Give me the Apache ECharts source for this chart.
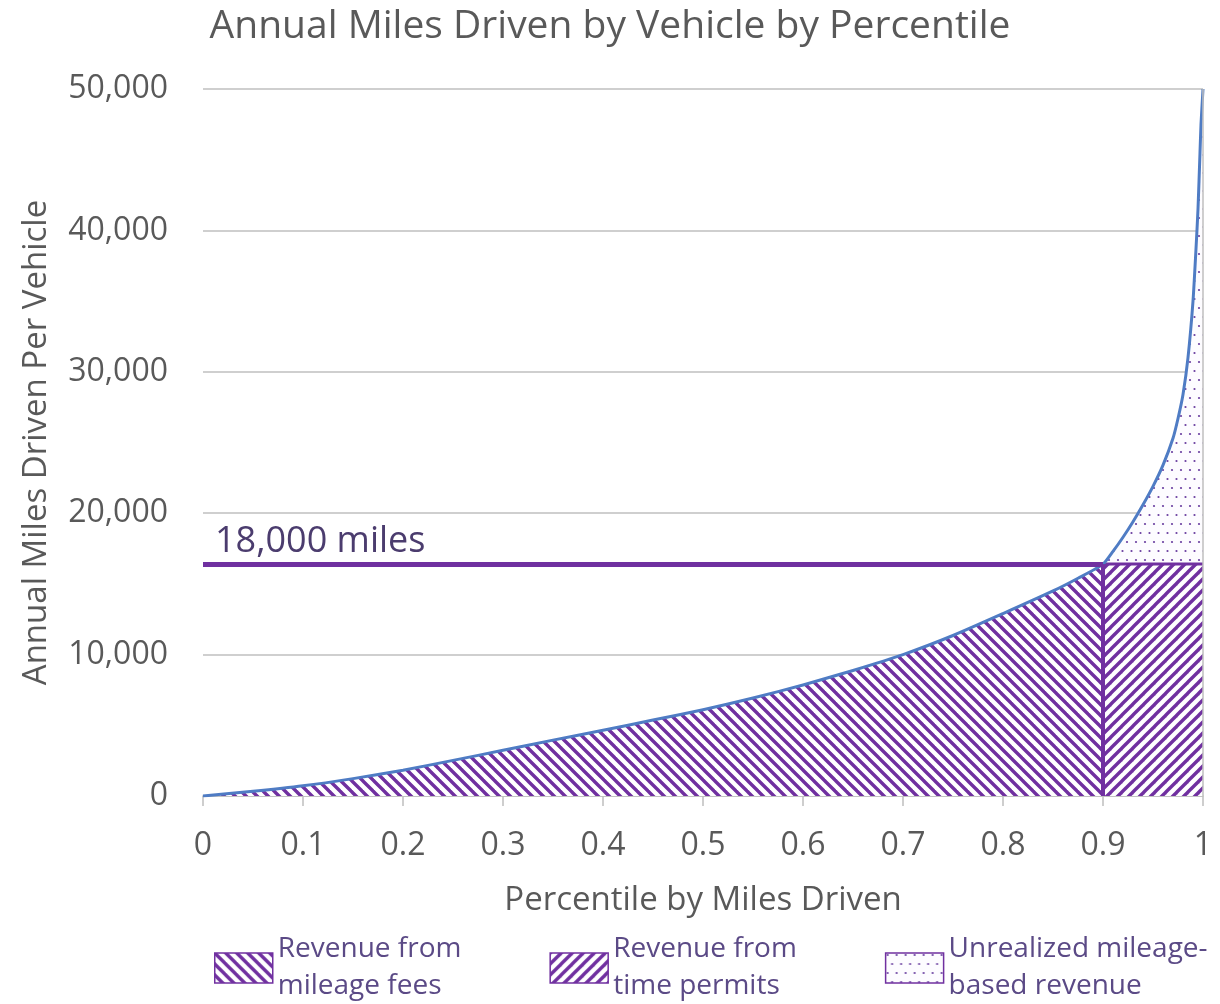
<!DOCTYPE html>
<html><head><meta charset="utf-8">
<script src="https://cdn.jsdelivr.net/npm/echarts@6/dist/echarts.min.js"></script>
<style>html,body{margin:0;padding:0;background:#fff}#c{width:1220px;height:1004px}</style>
</head><body><div id="c"></div>
<script>
// ---- data ----
const percentiles = [0, 0.05, 0.1, 0.15, 0.2, 0.25, 0.3, 0.35, 0.4, 0.45, 0.5, 0.55, 0.6, 0.65, 0.7, 0.75, 0.8, 0.85, 0.875, 0.9, 0.91, 0.92, 0.93, 0.94, 0.95, 0.96, 0.97, 0.975, 0.98, 0.985, 0.99, 0.993, 0.995, 0.997, 0.998, 1];
const miles = [0, 330, 720, 1230, 1820, 2520, 3230, 3950, 4650, 5370, 6100, 6930, 7850, 8880, 10000, 11350, 12900, 14500, 15400, 16400, 17300, 18300, 19400, 20600, 21900, 23400, 25300, 26700, 28400, 31000, 35000, 38700, 41500, 45500, 47500, 50000];
const thresholdPercentile = 0.9;
const thresholdMiles = 16400;
const thresholdLabel = '18,000 miles';
const seriesNames = ['Revenue from\nmileage fees', 'Revenue from\ntime permits', 'Unrealized mileage-\nbased revenue'];
const titleText = 'Annual Miles Driven by Vehicle by Percentile';
const xAxisTitle = 'Percentile by Miles Driven';
const yAxisTitle = 'Annual Miles Driven Per Vehicle';

// ---- patterns ----
const PURPLE = '#7030a0';
function hatch(dir) {
  const s = 11, c = document.createElement('canvas');
  c.width = s; c.height = s;
  const g = c.getContext('2d');
  g.fillStyle = '#ffffff'; g.fillRect(0, 0, s, s);
  g.strokeStyle = PURPLE; g.lineWidth = 3.4; g.lineCap = 'square';
  for (let k = -1; k <= 1; k++) {
    g.beginPath();
    if (dir === 'back') { g.moveTo(k * s - 2, -2); g.lineTo(k * s + s + 2, s + 2); }
    else { g.moveTo(k * s - 2, s + 2); g.lineTo(k * s + s + 2, -2); }
    g.stroke();
  }
  return { image: c, repeat: 'repeat' };
}
function dots() {
  const s = 18, c = document.createElement('canvas');
  c.width = s; c.height = s;
  const g = c.getContext('2d');
  g.fillStyle = '#fdfcff'; g.fillRect(0, 0, s, s);
  g.fillStyle = '#6a3fa0';
  [[2, 2], [11, 2], [6.5, 11], [15.5, 11]].forEach(p => { g.beginPath(); g.arc(p[0], p[1], 1.1, 0, Math.PI * 2); g.fill(); });
  return { image: c, repeat: 'repeat' };
}
const patBack = hatch('back'), patFwd = hatch('fwd'), patDots = dots();

const curve = percentiles.map((p, i) => [p, miles[i]]);
const mileagePart = curve.filter(d => d[0] <= thresholdPercentile);
const unrealizedPart = curve.filter(d => d[0] >= thresholdPercentile);
const permitPart = [[thresholdPercentile, thresholdMiles], [1, thresholdMiles]];

const FONT = 'Open Sans';
const GREY = '#595959';
const SMOOTH = 0.2;
const chart = echarts.init(document.getElementById('c'), null, { renderer: 'canvas' });
chart.setOption({
  backgroundColor: '#ffffff',
  animation: false,
  title: {
    text: titleText, left: 'center', top: 2,
    textStyle: { fontFamily: FONT, fontSize: 39, fontWeight: 'normal', color: GREY }
  },
  grid: { left: 203, right: 17, top: 89, bottom: 208, containLabel: false },
  xAxis: {
    type: 'value', min: 0, max: 1, interval: 0.1,
    name: xAxisTitle, nameLocation: 'middle', nameGap: 88,
    nameTextStyle: { fontFamily: FONT, fontSize: 33, color: GREY },
    axisLine: { show: true, lineStyle: { color: '#bfbfbf', width: 1.5 } },
    axisTick: { show: true, length: 10, lineStyle: { color: '#bfbfbf', width: 1.5 } },
    axisLabel: { fontFamily: FONT, fontSize: 32, color: GREY, margin: 34 },
    splitLine: { show: false }
  },
  yAxis: {
    type: 'value', min: 0, max: 50000, interval: 10000,
    name: yAxisTitle, nameLocation: 'middle', nameGap: 150, nameRotate: 90,
    nameTextStyle: { fontFamily: FONT, fontSize: 33, color: GREY },
    axisLine: { show: false }, axisTick: { show: false },
    axisLabel: { fontFamily: FONT, fontSize: 32, color: GREY, margin: 35,
      formatter: v => v.toLocaleString('en-US') },
    splitLine: { show: true, lineStyle: { color: '#bfbfbf', width: 1.5 } }
  },
  legend: {
    left: 209, top: 926, itemGap: 88, itemWidth: 58, itemHeight: 30,
    icon: 'rect', selectedMode: false,
    textStyle: { fontFamily: FONT, fontSize: 28, color: '#5b4a86', lineHeight: 37 },
    data: [
      { name: seriesNames[0], icon: 'rect', itemStyle: { color: patBack, borderColor: PURPLE, borderWidth: 1.5 } },
      { name: seriesNames[1], icon: 'rect', itemStyle: { color: patFwd, borderColor: PURPLE, borderWidth: 1.5 } },
      { name: seriesNames[2], icon: 'rect', itemStyle: { color: patDots, borderColor: PURPLE, borderWidth: 1.5 } }
    ]
  },
  series: [
    {
      name: seriesNames[0], type: 'line', data: mileagePart, showSymbol: false, smooth: SMOOTH,
      lineStyle: { width: 0 }, itemStyle: { color: PURPLE },
      areaStyle: { color: patBack, opacity: 1 },
      markLine: {
        silent: true, symbol: ['none', 'none'],
        data: [
          [{ coord: [0, thresholdMiles], lineStyle: { color: PURPLE, width: 5, type: 'solid' },
             label: { show: true, formatter: thresholdLabel, position: 'insideStartTop', distance: [12, 4],
                      fontFamily: FONT, fontSize: 36, color: '#4b3c6e' } },
           { coord: [thresholdPercentile, thresholdMiles] }],
          [{ coord: [thresholdPercentile, 0], lineStyle: { color: PURPLE, width: 4, type: 'solid' }, label: { show: false } },
           { coord: [thresholdPercentile, thresholdMiles] }]
        ]
      }
    },
    {
      name: seriesNames[2], type: 'line', data: unrealizedPart, showSymbol: false, smooth: SMOOTH,
      lineStyle: { width: 0 }, itemStyle: { color: PURPLE },
      areaStyle: { color: patDots, opacity: 1 }
    },
    {
      name: seriesNames[1], type: 'line', data: permitPart, showSymbol: false,
      lineStyle: { width: 3, color: PURPLE }, itemStyle: { color: PURPLE },
      areaStyle: { color: patFwd, opacity: 1 }
    },
    {
      name: 'curve', type: 'line', data: curve, showSymbol: false, smooth: SMOOTH,
      lineStyle: { width: 3, color: '#4f7cc4', join: 'round' }, itemStyle: { color: '#4f7cc4' },
      markLine: {
        silent: true, symbol: ['none', 'none'], label: { show: false },
        lineStyle: { color: '#bfbfbf', width: 1.5, type: 'solid' },
        data: [[{ coord: [1, 0] }, { coord: [1, 50000] }]]
      }
    }
  ]
});
</script>
</body></html>
